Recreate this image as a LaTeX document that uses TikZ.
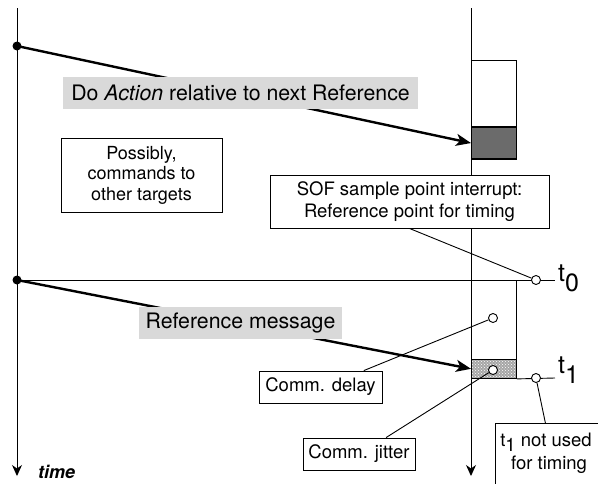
\documentclass[tikz,border=0pt]{standalone}
\usepackage{fontspec}
\setmainfont{TeX Gyre Heros}
\usetikzlibrary{arrows.meta,patterns,calc}

\begin{document}
\begin{tikzpicture}[x=1pt,y=-1pt,
  box/.style={draw, fill=white, line width=0.9pt, inner sep=0pt, align=center},
  lbl/.style={fill=black!15, inner sep=0pt, font=\fontsize{21.3}{24}\selectfont},
  msg/.style={line width=2.4pt, -{Stealth[length=15pt,width=12pt,inset=4pt]}},
  axis/.style={line width=1pt, -{Stealth[length=11pt,width=10pt,inset=3.5pt]}},
  dot/.style={circle, fill=black, inner sep=0pt, minimum size=9pt},
  ring/.style={circle, draw, fill=white, line width=0.9pt, inner sep=0pt, minimum size=9pt},
  lead/.style={line width=0.9pt},
  small/.style={font=\fontsize{18.5}{22}\selectfont}
]
\useasboundingbox (0,0) rectangle (598,483);
\clip (0,0) rectangle (598,483);

% the two time axes
\coordinate (ltop) at (17,8);
\coordinate (lbot) at (17,476);
\coordinate (rtop) at (471,8);
\coordinate (rbot) at (471,476);
\draw[axis] (ltop) -- (lbot);
\draw[axis] (rtop) -- (rbot);

% send events
\node[dot] (s1) at (17,46) {};
\node[dot] (s2) at (17,280) {};

% reference instant line
\coordinate (t0end) at (555,280);
\draw[lead] (s2.center) -- (t0end);

% action block on the receiver
\node[box, anchor=north west, minimum width=45pt, minimum height=99pt] (act) at (471,60) {};
\node[draw, fill=black!58, line width=0.9pt, anchor=south west, minimum width=45pt,
      minimum height=31pt, inner sep=0pt] (actfill) at (471,159) {};
\draw[line width=2pt] (actfill.north west) -- (actfill.north east);

% reference message block on the receiver
\node[box, anchor=north west, minimum width=45pt, minimum height=98pt] (ref) at (471,280) {};
\node[anchor=south west, minimum width=45pt, minimum height=18pt, inner sep=0pt,
      fill=black!35] (jit) at (471,378) {};
\fill[pattern=crosshatch dots, pattern color=white] (jit.south west) rectangle (jit.north east);
\draw[line width=0.9pt] (jit.south west) rectangle (jit.north east);

% second instant line
\coordinate (t1end) at (555,378);
\draw[lead] (ref.south east) -- (t1end);

% messages
\draw[msg] (s1.center) -- (actfill.west);
\draw[msg] (s2.center) -- (jit.west);

% message labels
\node[lbl, minimum width=355pt, minimum height=32pt] (actlbl) at (240.5,93)
  {Do \textit{Action} relative to next Reference};
\node[lbl, minimum width=203pt, minimum height=32pt] (reflbl) at (240.5,323)
  {Reference message};

% annotation boxes
\node[box, minimum width=161pt, minimum height=74pt, font=\fontsize{18}{20.5}\selectfont]
  (poss) at (141.5,175) {Possibly,\\commands to\\other targets};
\node[box, minimum width=279pt, minimum height=53pt, font=\fontsize{18.5}{22}\selectfont]
  (sof) at (409.5,201.5) {SOF sample point interrupt:\\Reference point for timing};
\node[box, small, minimum width=123pt, minimum height=32pt] (delay) at (320.5,387) {Comm. delay};
\node[box, small, minimum width=112pt, minimum height=32pt] (jitter) at (359,454) {Comm. jitter};
\node[draw, fill=white, line width=0.9pt, anchor=north west, minimum width=130pt,
      minimum height=80pt, inner sep=0pt] (t1box) at (495,423) {};
\node[small, anchor=base, inner sep=0pt] (t1note) at (546,446) {t\raisebox{-5pt}{1} not used};
\node[small, anchor=base, inner sep=0pt] (t1note2) at (549,469) {for timing};

% leader lines with their rings
\node[ring] (c0) at (536,280) {};
\node[ring] (c1) at (536,378) {};
\node[ring] (cd) at (493,318) {};
\node[ring] (cj) at (493,370) {};
\draw[lead] (sof.south) -- (c0);
\draw[lead] ($(delay.north west)!0.85!(delay.north east)$) -- (cd);
\draw[lead] ($(jitter.north west)!0.74!(jitter.north east)$) -- (cj);
\draw[lead] ($(t1box.north west)!0.385!(t1box.north east)$) -- (c1);

% instant labels
\node[anchor=base west, inner sep=0pt, font=\fontsize{25}{25}\selectfont] (t0lbl) at (558,281)
  {t\raisebox{-10pt}{0}};
\node[anchor=base west, inner sep=0pt, font=\fontsize{25}{25}\selectfont] (t1lbl) at (558,373)
  {t\raisebox{-10pt}{1}};

% axis caption
\node[anchor=base west, inner sep=0pt, font=\fontsize{18}{18}\selectfont\bfseries\itshape]
  (timelbl) at (38,478) {time};
\end{tikzpicture}
\end{document}
